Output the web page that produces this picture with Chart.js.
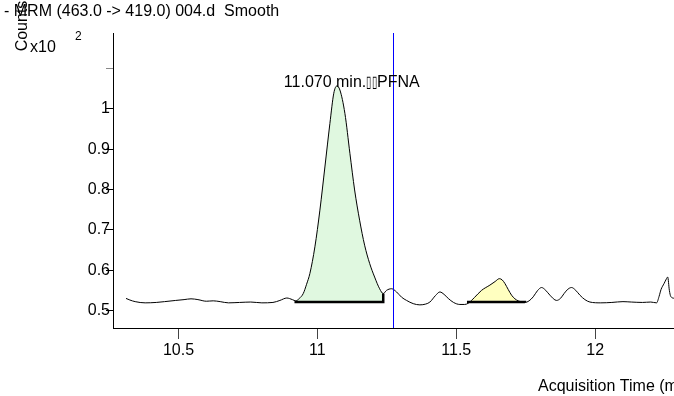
<!DOCTYPE html>
<html>
<head>
<meta charset="utf-8">
<script src="https://cdn.jsdelivr.net/npm/chart.js@4.4.1/dist/chart.umd.min.js"></script>
<style>
  html, body { margin: 0; padding: 0; background: #fff; overflow: hidden; }
  #wrap { position: relative; width: 674px; height: 396px; }
</style>
</head>
<body>
<div id="wrap"><canvas id="chromatogram"></canvas></div>
<script>
// Smoothed MRM trace: acquisition time (min) and counts (x10^2)
const times = [
  10.311, 10.325, 10.344, 10.380, 10.420, 10.450, 10.490, 10.520, 10.545, 10.570,
  10.600, 10.625, 10.650, 10.680, 10.720, 10.760, 10.800, 10.840, 10.865, 10.890,
  10.910, 10.922, 10.935, 10.949, 10.961, 10.973, 10.991, 11.009, 11.027, 11.045,
  11.059, 11.070, 11.081, 11.099, 11.117, 11.134, 11.152, 11.170, 11.188, 11.206,
  11.224, 11.237, 11.249, 11.267, 11.285, 11.303, 11.321, 11.345, 11.369, 11.390,
  11.405, 11.425, 11.441, 11.456, 11.471, 11.490, 11.513, 11.530, 11.543, 11.565,
  11.591, 11.621, 11.640, 11.655, 11.665, 11.675, 11.687, 11.699, 11.711, 11.723,
  11.747, 11.762, 11.777, 11.792, 11.807, 11.822, 11.837, 11.861, 11.875, 11.888,
  11.902, 11.915, 11.930, 11.945, 11.963, 11.981, 12.020, 12.060, 12.100, 12.130,
  12.170, 12.200, 12.221, 12.230, 12.237, 12.248, 12.256, 12.261, 12.267, 12.272,
  12.285
];
const counts = [
  0.530, 0.526, 0.522, 0.519, 0.520, 0.522, 0.525, 0.527, 0.529, 0.527,
  0.523, 0.524, 0.522, 0.519, 0.520, 0.521, 0.519, 0.520, 0.525, 0.531,
  0.527, 0.524, 0.530, 0.542, 0.565, 0.592, 0.658, 0.749, 0.856, 0.964,
  1.039, 1.057, 1.047, 0.989, 0.890, 0.799, 0.724, 0.662, 0.617, 0.583,
  0.554, 0.542, 0.550, 0.554, 0.546, 0.533, 0.525, 0.517, 0.514, 0.516,
  0.521, 0.537, 0.546, 0.540, 0.530, 0.520, 0.515, 0.515, 0.518, 0.532,
  0.550, 0.563, 0.572, 0.579, 0.576, 0.567, 0.552, 0.538, 0.529, 0.524,
  0.520, 0.524, 0.534, 0.549, 0.557, 0.550, 0.538, 0.525, 0.530, 0.542,
  0.553, 0.557, 0.550, 0.538, 0.527, 0.521, 0.519, 0.520, 0.522, 0.521,
  0.520, 0.521, 0.519, 0.535, 0.552, 0.567, 0.578, 0.583, 0.550, 0.535,
  0.530
];

// Integrated peaks: start / end time and baseline level
const peakStarts = [10.922, 11.543];
const peakEnds = [11.237, 11.747];
const peakBaselines = [0.521, 0.521];

// Labelled compound peak
const labelTime = 11.070;
const labelCompound = 'PFNA';

// Cursor position (min)
const cursorTime = 11.271;

// Axis ticks
const xTicks = [10.5, 11, 11.5, 12];
const xTickLabels = ['10.5', '11', '11.5', '12'];
const yTicks = [0.5, 0.6, 0.7, 0.8, 0.9, 1, 1.1];
const yTickLabels = ['0.5', '0.6', '0.7', '0.8', '0.9', '1', ''];

const chartTitle = '- MRM (463.0 -> 419.0) 004.d  Smooth';
const yTitle = 'Counts';
const xTitle = 'Acquisition Time (min)';

const FONT = '"Liberation Sans", Arial, sans-serif';
const peakColors = ['#e0f8e0', '#ffffc0'];

const points = times.map((t, i) => ({ x: t, y: counts[i] }));
const valueAt = t => counts[times.indexOf(t)];

const fillSets = peakStarts.map((s, k) => ({
  data: points.filter(p => p.x >= s && p.x <= peakEnds[k]),
  borderWidth: 0,
  pointRadius: 0,
  backgroundColor: peakColors[k],
  fill: { value: peakBaselines[k] },
  cubicInterpolationMode: 'monotone',
  order: 3
}));

const baseSets = peakStarts.map((s, k) => ({
  data: [
    { x: s, y: valueAt(s) },
    { x: s, y: peakBaselines[k] },
    { x: peakEnds[k], y: peakBaselines[k] },
    { x: peakEnds[k], y: valueAt(peakEnds[k]) }
  ],
  borderColor: '#000',
  borderWidth: 2.5,
  pointRadius: 0,
  fill: false,
  tension: 0,
  order: 1
}));

const traceSet = {
  data: points,
  borderColor: '#000',
  borderWidth: 1,
  pointRadius: 0,
  fill: false,
  cubicInterpolationMode: 'monotone',
  order: 2
};

const annotations = {
  id: 'annotations',
  afterDatasetsDraw(chart) {
    const { ctx, chartArea, scales } = chart;
    const x = scales.x, y = scales.y;
    ctx.save();
    // cursor line
    const cx = Math.round(x.getPixelForValue(cursorTime)) + 0.5;
    ctx.strokeStyle = '#0000ff';
    ctx.lineWidth = 1;
    ctx.beginPath();
    ctx.moveTo(cx, chartArea.top);
    ctx.lineTo(cx, chartArea.bottom);
    ctx.stroke();
    // peak label: retention time, two narrow separator boxes, compound name
    ctx.fillStyle = '#000';
    ctx.font = '16px ' + FONT;
    ctx.textAlign = 'left';
    ctx.textBaseline = 'alphabetic';
    let lx = x.getPixelForValue(labelTime) - 53;
    const ly = y.getPixelForValue(valueAt(labelTime)) + 1;
    const head = labelTime.toFixed(3) + ' min.';
    ctx.fillText(head, lx, ly);
    lx += ctx.measureText(head).width;
    const boxes = '\u25AF\u25AF';
    const squeeze = 0.6;
    ctx.save();
    ctx.translate(lx, ly);
    ctx.scale(squeeze, 1);
    ctx.fillText(boxes, 0, 0);
    ctx.restore();
    lx += ctx.measureText(boxes).width * squeeze;
    ctx.fillText(labelCompound, lx, ly);
    ctx.restore();
  },
  afterDraw(chart) {
    const { ctx } = chart;
    ctx.save();
    ctx.fillStyle = '#000';
    ctx.font = '16px ' + FONT;
    ctx.textAlign = 'left';
    ctx.textBaseline = 'alphabetic';
    ctx.fillText(chartTitle, 4, 16);
    ctx.fillText(xTitle, 538, 391);
    ctx.fillText('x10', 30, 52);
    ctx.font = '12px ' + FONT;
    ctx.fillText('2', 75, 40);
    ctx.font = '16px ' + FONT;
    ctx.translate(27, 26);
    ctx.rotate(-Math.PI / 2);
    ctx.textAlign = 'center';
    ctx.fillText(yTitle, 0, 0);
    ctx.restore();
  }
};

new Chart(document.getElementById('chromatogram'), {
  type: 'line',
  data: { datasets: [...fillSets, traceSet, ...baseSets] },
  options: {
    responsive: true,
    maintainAspectRatio: false,
    animation: false,
    parsing: false,
    normalized: true,
    layout: { padding: { top: 33, left: 0, right: 0, bottom: 0 } },
    plugins: { legend: { display: false }, tooltip: { enabled: false }, title: { display: false } },
    scales: {
      x: {
        type: 'linear',
        min: 10.2642,
        max: 12.2837,
        afterFit: s => { s.height = 68; },
        afterBuildTicks: s => { s.ticks = xTicks.map(v => ({ value: v })); },
        ticks: {
          autoSkip: false,
          maxRotation: 0,
          padding: 2,
          color: '#000',
          font: { family: FONT, size: 16 },
          callback: (v, i) => xTickLabels[i]
        },
        grid: { drawOnChartArea: false, drawTicks: true, tickLength: 11, tickColor: '#444' },
        border: { display: true, color: '#000', width: 1 }
      },
      y: {
        type: 'linear',
        min: 0.4566,
        max: 1.1884,
        afterFit: s => { s.width = 113; },
        afterBuildTicks: s => { s.ticks = yTicks.map(v => ({ value: v })); },
        ticks: {
          autoSkip: false,
          padding: -4,
          color: '#000',
          font: { family: FONT, size: 16 },
          callback: (v, i) => yTickLabels[i]
        },
        grid: {
          drawOnChartArea: false,
          drawTicks: true,
          tickLength: 7,
          tickColor: c => (c.tick && c.tick.value === 1.1 ? '#888' : '#000')
        },
        border: { display: true, color: '#000', width: 1 }
      }
    }
  },
  plugins: [annotations]
});
</script>
</body>
</html>
